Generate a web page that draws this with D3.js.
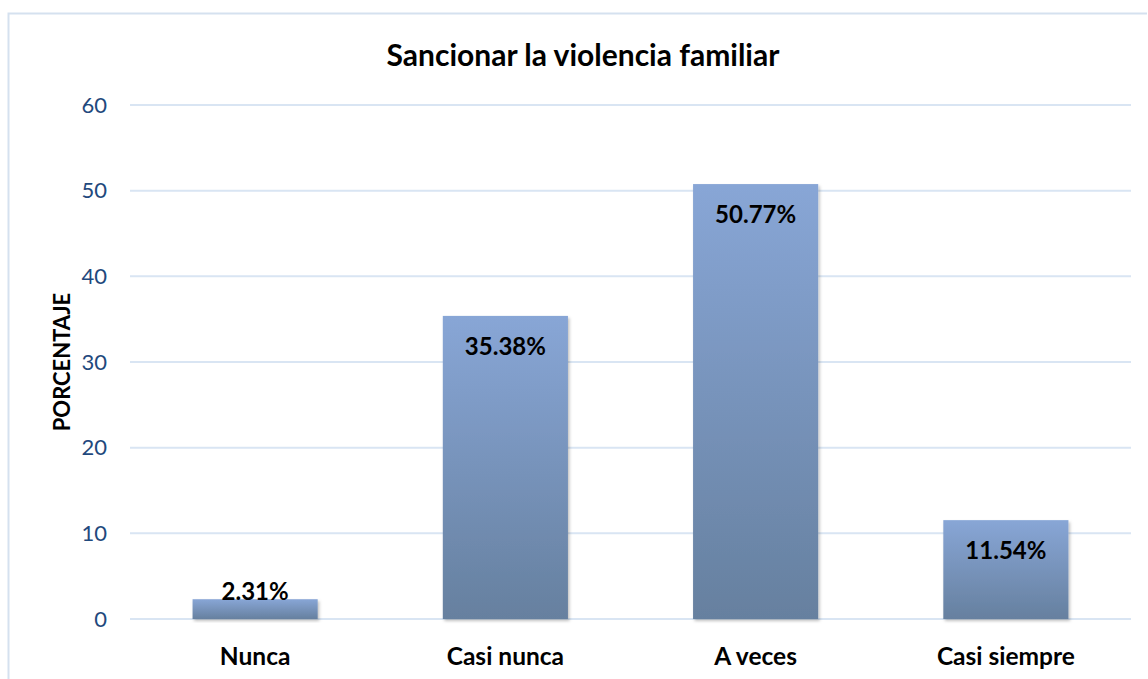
<!DOCTYPE html>
<html><head><meta charset="utf-8">
<script src="https://cdn.jsdelivr.net/npm/d3@7"></script>
<style>body{margin:0;background:#fff;}svg{display:block;font-family:Lato,"Open Sans",sans-serif;}</style>
</head><body>
<svg id="c" width="1148" height="679"></svg>
<script>
const categories = ["Nunca", "Casi nunca", "A veces", "Casi siempre"];
const values = [2.31, 35.38, 50.77, 11.54];
const yTicks = [0, 10, 20, 30, 40, 50, 60];
const title = "Sancionar la violencia familiar";
const yTitle = "PORCENTAJE";

const svg = d3.select("#c");
const m = {left:130, right:1131, top:105, bottom:619};
const defs = svg.append("defs");
const g = defs.append("linearGradient").attr("id","bg").attr("x1",0).attr("y1",0).attr("x2",0).attr("y2",1);
g.append("stop").attr("offset","0%").attr("stop-color","#88a6d6");
g.append("stop").attr("offset","100%").attr("stop-color","#66809f");
const f = defs.append("filter").attr("id","sh").attr("x","-10%").attr("y","-10%").attr("width","130%").attr("height","130%");
f.append("feDropShadow").attr("dx",1.5).attr("dy",2).attr("stdDeviation",1.5).attr("flood-color","#000").attr("flood-opacity",0.25);

// outer border
svg.append("path").attr("d","M8.5,679 V13.5 H1147").attr("fill","none").attr("stroke","#d5e1ef").attr("stroke-width",2);

const x = d3.scaleBand().domain(categories).range([m.left, m.right]).paddingInner(0.5).paddingOuter(0.25);
const y = d3.scaleLinear().domain([0,60]).range([m.bottom, m.top]);

// gridlines
svg.append("g").selectAll("line").data(yTicks).join("line")
  .attr("x1", m.left).attr("x2", m.right)
  .attr("y1", d=>y(d)).attr("y2", d=>y(d))
  .attr("stroke","#d9e5f3").attr("stroke-width",2);

// y axis labels
const yAxis = d3.axisLeft(y).tickValues(yTicks).tickSize(0).tickPadding(0);
const ya = svg.append("g").attr("transform",`translate(${m.left-23},0)`).call(yAxis);
ya.select(".domain").remove();
ya.selectAll("text").attr("fill","#1f497d").attr("font-size",22).attr("font-family","Lato,'Open Sans',sans-serif");

// bars
svg.append("g").selectAll("rect").data(values).join("rect")
  .attr("x",(d,i)=>x(categories[i])).attr("width",x.bandwidth())
  .attr("y",d=>y(d)).attr("height",d=>y(0)-y(d))
  .attr("fill","url(#bg)").attr("filter","url(#sh)");

// data labels
svg.append("g").selectAll("text").data(values).join("text")
  .attr("x",(d,i)=>x(categories[i])+x.bandwidth()/2)
  .attr("y",d=> (y(0)-y(d))>45 ? y(d)+39 : y(d)+1)
  .attr("text-anchor","middle").attr("font-weight","bold").attr("font-size",24).attr("fill","#000")
  .text(d=>d.toFixed(2)+"%");

// x axis labels
const xAxis = d3.axisBottom(x).tickSize(0).tickPadding(0);
const xa = svg.append("g").attr("transform",`translate(0,${m.bottom+46})`).call(xAxis);
xa.select(".domain").remove();
xa.selectAll("text").attr("dy",0).attr("fill","#000").attr("font-size",24.5).attr("font-weight","bold").attr("font-family","Lato,'Open Sans',sans-serif");

// title
svg.append("text").attr("x",583).attr("y",66).attr("text-anchor","middle")
  .attr("font-size",30).attr("font-weight","bold").attr("fill","#000").text(title);

// y title
svg.append("text").attr("transform",`translate(70,${(m.top+m.bottom)/2}) rotate(-90)`)
  .attr("text-anchor","middle").attr("font-size",22).attr("font-weight","bold").attr("fill","#000").text(yTitle);
</script>
</body></html>
